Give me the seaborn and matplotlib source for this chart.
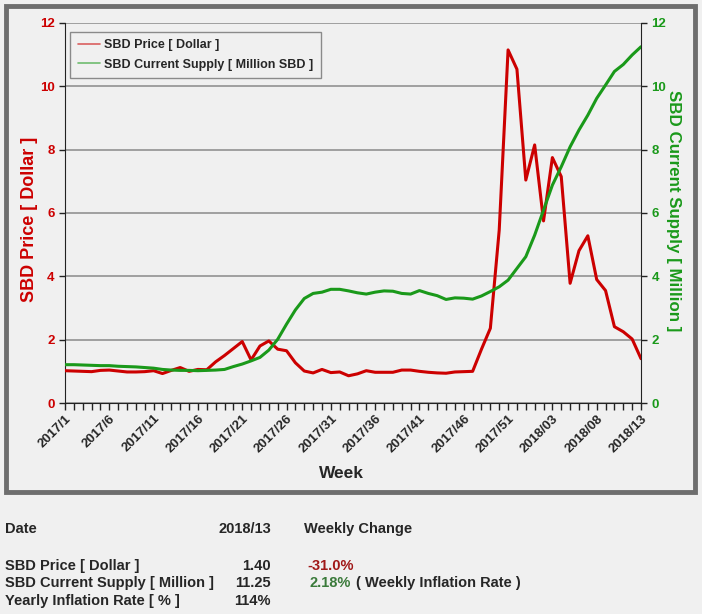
import numpy as np
import pandas as pd
import seaborn as sns
import matplotlib
matplotlib.use("Agg")
import matplotlib.pyplot as plt
from matplotlib.lines import Line2D
from matplotlib.patches import Rectangle

# weeks 2017/1 .. 2018/13
weeks = ["2017/" + str(w) for w in range(1, 54)] + ["2018/%02d" % w for w in range(1, 14)]

sbd_price = [1.02, 1.01, 1.00, 0.99, 1.03, 1.04, 1.01, 0.98, 0.98, 0.99,
             1.02, 0.93, 1.03, 1.12, 1.00, 1.06, 1.05, 1.30, 1.50, 1.72,
             1.94, 1.36, 1.80, 1.96, 1.70, 1.65, 1.27, 1.01, 0.95, 1.06,
             0.96, 0.98, 0.86, 0.92, 1.02, 0.97, 0.97, 0.97, 1.04, 1.04,
             1.00, 0.97, 0.95, 0.94, 0.98, 0.99, 1.00, 1.70, 2.36, 5.46,
             11.15, 10.54, 7.04, 8.15, 5.75, 7.75, 7.15, 3.78, 4.81, 5.28,
             3.90, 3.55, 2.41, 2.25, 2.02, 1.40]

sbd_supply = [1.21, 1.21, 1.20, 1.19, 1.18, 1.18, 1.16, 1.15, 1.14, 1.12,
              1.10, 1.06, 1.04, 1.03, 1.03, 1.02, 1.03, 1.04, 1.06, 1.15,
              1.23, 1.33, 1.44, 1.67, 2.01, 2.49, 2.94, 3.30, 3.46, 3.50,
              3.59, 3.59, 3.54, 3.48, 3.44, 3.50, 3.54, 3.53, 3.46, 3.44,
              3.55, 3.46, 3.39, 3.27, 3.32, 3.31, 3.28, 3.38, 3.52, 3.67,
              3.88, 4.25, 4.62, 5.30, 6.09, 6.88, 7.46, 8.09, 8.62, 9.09,
              9.62, 10.04, 10.47, 10.69, 10.99, 11.25]

df = pd.DataFrame({"idx": np.arange(len(weeks)), "week": weeks,
                   "price": sbd_price, "supply": sbd_supply})

RED = "#cc0000"
GREEN = "#1a991a"
BG = "#f0f0f0"

sns.set_style("white")
plt.rcParams["font.family"] = ["Liberation Sans", "DejaVu Sans"]

fig = plt.figure(figsize=(7.02, 6.14), dpi=100, facecolor=BG)
ax = fig.add_axes([65 / 702, 1 - 403 / 614, 576 / 702, 380 / 614])
ax.set_facecolor(BG)

# frame around chart
fig.patches.append(Rectangle((6 / 702, 1 - 492 / 614), 689 / 702, 486 / 614,
                             transform=fig.transFigure, fill=False,
                             edgecolor="#6e6e6e", linewidth=3.5, zorder=0))

sns.lineplot(data=df, x="idx", y="price", ax=ax, color=RED, linewidth=2.2, zorder=3)
ax2 = ax.twinx()
sns.lineplot(data=df, x="idx", y="supply", ax=ax2, color=GREEN, linewidth=2.2, zorder=3)

for a in (ax, ax2):
    a.set_ylim(0, 12)
    a.set_yticks(range(0, 13, 2))
    a.set_xlim(0, len(weeks) - 1)
    for s in a.spines.values():
        s.set_visible(False)

ax.yaxis.grid(True, color="#8a8a8a", linewidth=1.1)
ax.set_axisbelow(True)
ax.spines["left"].set_visible(True)
ax.spines["left"].set_color("#222222")
ax.spines["bottom"].set_visible(True)
ax.spines["bottom"].set_color("#222222")
ax2.spines["right"].set_visible(True)
ax2.spines["right"].set_color("#222222")

ax.set_xticks(df["idx"])
ax.set_xticklabels([w if i % 5 == 0 else "" for i, w in enumerate(weeks)],
                   rotation=45, ha="right", rotation_mode="anchor",
                   fontsize=9.5, fontweight="bold")
ax.tick_params(axis="x", length=5, width=1, color="#222222", direction="out",
               pad=2, bottom=True)
ax.tick_params(axis="y", length=4, width=1, color="#222222", labelcolor=RED,
               labelsize=9.5, left=True)
ax2.tick_params(axis="y", length=4, width=1, color="#222222", labelcolor=GREEN,
                labelsize=9.5, right=True)
for lab in ax.get_yticklabels() + ax2.get_yticklabels():
    lab.set_fontweight("bold")

ax.set_xlabel("Week", fontsize=12.5, fontweight="bold")
ax.xaxis.set_label_coords(0.48, -0.165)
ax.set_ylabel("SBD Price [ Dollar ]", fontsize=13, fontweight="bold", color=RED)
ax.yaxis.set_label_coords(-0.047, 0.484)
ax2.set_ylabel("SBD Current Supply [ Million ]", fontsize=12.2, fontweight="bold",
               color=GREEN, rotation=-90, labelpad=14)
ax2.yaxis.set_label_coords(1.069, 0.505)

handles = [Line2D([], [], color=RED, linewidth=1.2, alpha=0.6),
           Line2D([], [], color=GREEN, linewidth=1.2, alpha=0.6)]
leg = ax.legend(handles, ["SBD Price [ Dollar ]", "SBD Current Supply [ Million SBD ]"],
                loc="upper left", bbox_to_anchor=(0.009, 0.977), borderaxespad=0,
                fancybox=False, framealpha=1, facecolor=BG, edgecolor="#8a8a8a",
                fontsize=9, handlelength=1.8, handletextpad=0.3, borderpad=0.6,
                labelspacing=0.6)
for t in leg.get_texts():
    t.set_fontweight("bold")
if ax2.get_legend():
    ax2.get_legend().remove()


# summary table below the chart
def fy(y):
    return 1 - y / 614


def put(x, y, s, **kw):
    fig.text(x / 702, fy(y), s, fontsize=10.5, fontweight="bold", va="center",
             transform=fig.transFigure, **kw)


put(5, 529, "Date")
put(271, 529, "2018/13", ha="right")
put(304, 529, "Weekly Change")
put(5, 566, "SBD Price [ Dollar ]")
put(271, 566, "1.40", ha="right")
put(307, 566, "-31.0%", color="#a01818")
put(5, 583, "SBD Current Supply [ Million ]")
put(271, 583, "11.25", ha="right")
put(310, 583, "2.18%", color="#3a7a3a")
put(356, 583, "( Weekly Inflation Rate )")
put(5, 601, "Yearly Inflation Rate [ % ]")
put(271, 601, "114%", ha="right")

fig.savefig("out.png", dpi=100, facecolor=BG)
